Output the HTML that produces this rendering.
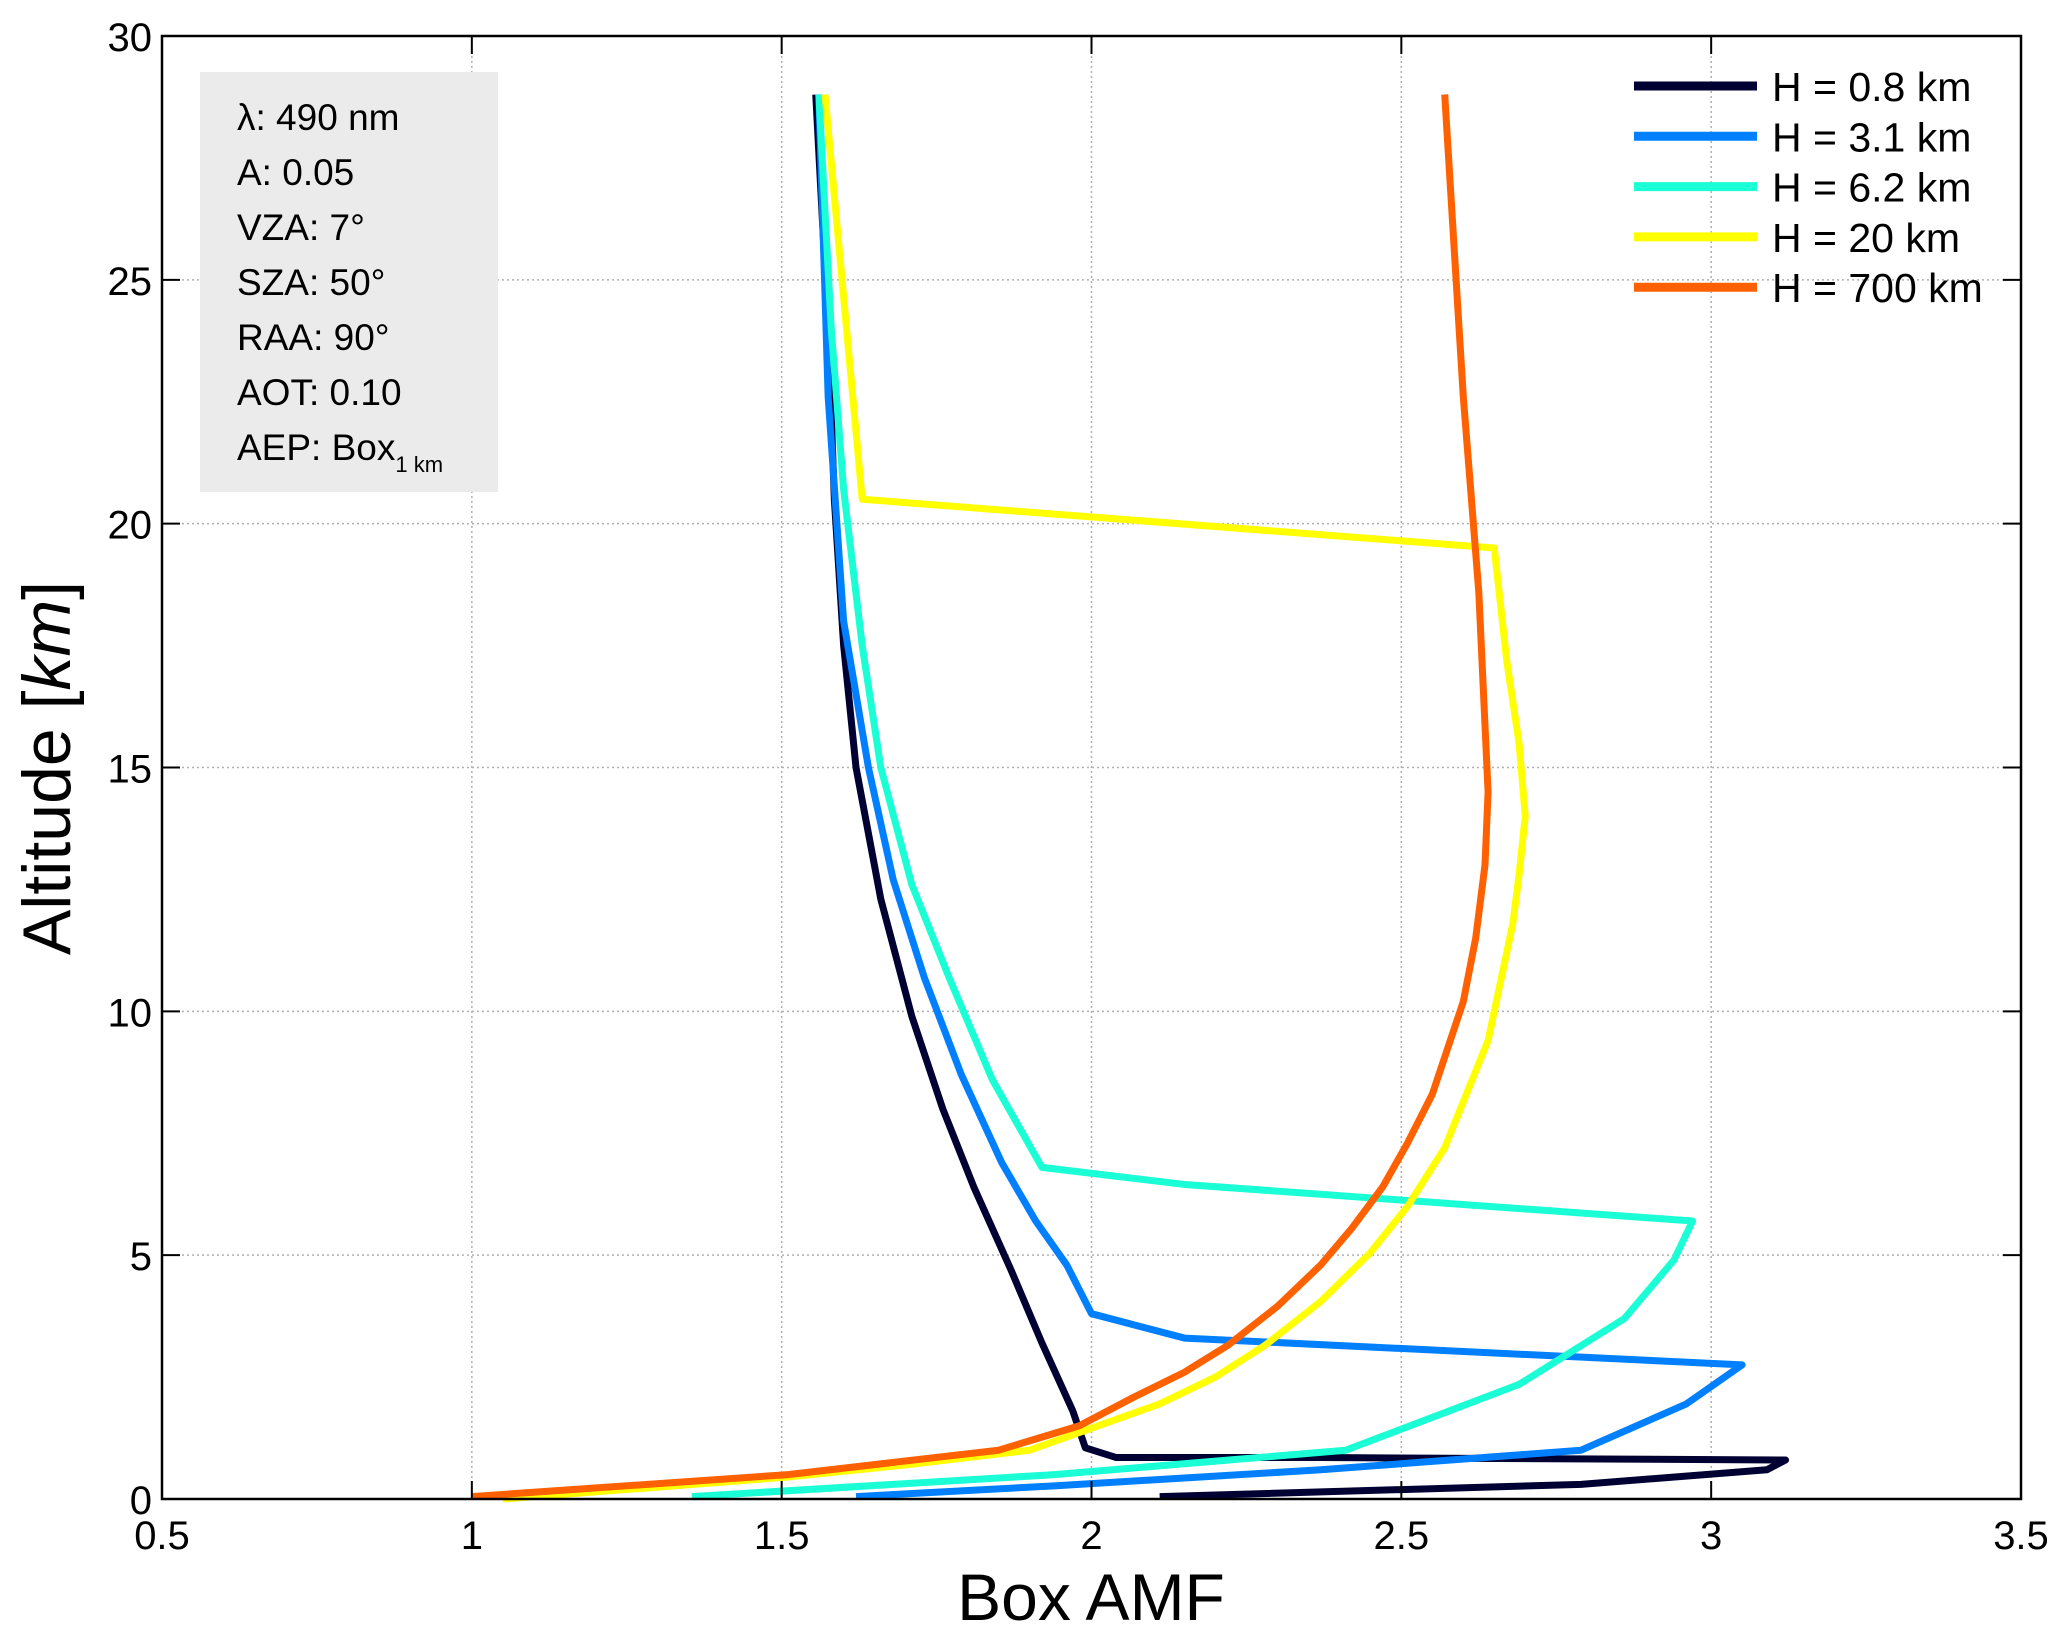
<!DOCTYPE html>
<html><head><meta charset="utf-8"><style>
body{margin:0;background:#fff;}
svg{display:block;font-family:"Liberation Sans",sans-serif;}
</style></head><body>
<svg id="chart" width="2067" height="1640" viewBox="0 0 2067 1640">
<rect width="2067" height="1640" fill="#fff"/>
<g id="grid"></g>
<g id="series"></g>
<g id="axes"></g>
<g>
<rect x="200" y="72" width="298" height="420" fill="#ebebeb"/>
<g font-size="37" fill="#000">
<text x="237" y="130">λ: 490 nm</text>
<text x="237" y="185">A: 0.05</text>
<text x="237" y="240">VZA: 7°</text>
<text x="237" y="295">SZA: 50°</text>
<text x="237" y="350">RAA: 90°</text>
<text x="237" y="405">AOT: 0.10</text>
<text x="237" y="460">AEP: Box<tspan font-size="22" dy="12">1 km</tspan></text>
</g></g>
<g id="legend"></g>
<text x="1091" y="1620" font-size="66" text-anchor="middle">Box AMF</text>
<text transform="translate(70,768) rotate(-90)" font-size="68" text-anchor="middle">Altitude [<tspan font-style="italic">km</tspan>]</text>
</svg>
<script>
const xTicks=[0.5,1,1.5,2,2.5,3,3.5];
const yTicks=[0,5,10,15,20,25,30];
const seriesNames=["H = 0.8 km","H = 3.1 km","H = 6.2 km","H = 20 km","H = 700 km"];
const seriesColors=["#000033","#0080ff","#1affd5","#ffff00","#ff6000"];
const s08x=[1.555,1.575,1.585,1.60,1.62,1.66,1.71,1.76,1.81,1.87,1.92,1.97,1.99,2.04,2.37,3.12,3.09,2.79,2.11];
const s08y=[28.8,24,20.5,17.5,15,12.3,9.9,8.0,6.4,4.7,3.2,1.8,1.05,0.85,0.85,0.8,0.6,0.3,0.05];
const s31x=[1.56,1.575,1.60,1.64,1.68,1.73,1.79,1.855,1.91,1.96,2.0,2.15,3.05,2.96,2.79,2.37,1.94,1.62];
const s31y=[28.8,22.6,18,15,12.7,10.7,8.7,6.9,5.7,4.8,3.8,3.3,2.75,1.95,1.0,0.6,0.27,0.05];
const s62x=[1.56,1.58,1.60,1.63,1.66,1.71,1.77,1.84,1.92,2.15,2.97,2.94,2.86,2.69,2.41,1.94,1.355];
const s62y=[28.8,24,20.7,17.5,15,12.6,10.7,8.6,6.8,6.45,5.7,4.9,3.7,2.35,1.0,0.5,0.05];
const s20x=[1.57,1.63,2.65,2.67,2.69,2.70,2.69,2.68,2.64,2.57,2.51,2.45,2.37,2.28,2.20,2.11,1.90,1.70,1.51,1.05];
const s20y=[28.8,20.5,19.5,17.2,15.5,14,12.8,11.8,9.4,7.2,6.0,5.05,4.05,3.15,2.5,1.95,1.0,0.7,0.45,0];
const s700x=[2.57,2.60,2.625,2.64,2.635,2.62,2.60,2.55,2.51,2.47,2.42,2.37,2.30,2.22,2.15,2.07,1.98,1.85,1.51,1.0];
const s700y=[28.8,22.6,18.6,14.5,13.0,11.5,10.2,8.3,7.3,6.4,5.55,4.8,3.95,3.15,2.6,2.1,1.5,1.0,0.5,0.05];
const allX=[s08x,s31x,s62x,s20x,s700x], allY=[s08y,s31y,s62y,s20y,s700y];
const L=162,R=2021,T=36,B=1499;
const sx=v=>L+(v-0.5)/3*(R-L), sy=v=>B-v/30*(B-T);
const NS="http://www.w3.org/2000/svg";
function mk(tag,attrs,parent,txt){const e=document.createElementNS(NS,tag);for(const k in attrs)e.setAttribute(k,attrs[k]);if(txt!==undefined)e.textContent=txt;parent.appendChild(e);return e;}
const grid=document.getElementById('grid'),axes=document.getElementById('axes'),ser=document.getElementById('series'),leg=document.getElementById('legend');
xTicks.forEach(t=>{
 const g=mk('line',{x1:sx(t),x2:sx(t),y1:T,y2:B,stroke:'#b0b0b0','stroke-width':1.5,'stroke-dasharray':'2,3'},grid);
 
 
 mk('line',{x1:sx(t),x2:sx(t),y1:B,y2:B-18,stroke:'#000','stroke-width':2},axes);
 mk('line',{x1:sx(t),x2:sx(t),y1:T,y2:T+18,stroke:'#000','stroke-width':2},axes);
 const l=mk('text',{x:sx(t),y:B+50,'font-size':40,'text-anchor':'middle'},axes,String(t));
 
 
});
yTicks.forEach(t=>{
 const g=mk('line',{x1:L,x2:R,y1:sy(t),y2:sy(t),stroke:'#b0b0b0','stroke-width':1.5,'stroke-dasharray':'2,3'},grid);
 
 
 mk('line',{x1:L,x2:L+18,y1:sy(t),y2:sy(t),stroke:'#000','stroke-width':2},axes);
 mk('line',{x1:R,x2:R-18,y1:sy(t),y2:sy(t),stroke:'#000','stroke-width':2},axes);
 const l=mk('text',{x:L-10,y:sy(t)+15,'font-size':40,'text-anchor':'end'},axes,String(t));
 
 
});
const fr=mk('rect',{x:L,y:T,width:R-L,height:B-T,fill:'none',stroke:'#000','stroke-width':2.5},axes);


allX.forEach((xs,i)=>{
 const pts=xs.map((v,j)=>sx(v)+','+sy(allY[i][j])).join(' ');
 const p=mk('polyline',{points:pts,fill:'none',stroke:seriesColors[i],'stroke-width':7,'stroke-linejoin':'round','stroke-linecap':'butt'},ser);
 
 
 const ly=86+i*50.3;
 const ll=mk('line',{x1:1634,x2:1757,y1:ly,y2:ly,stroke:seriesColors[i],'stroke-width':9},leg);
 
 
 const lt=mk('text',{x:1772,y:ly+15,'font-size':41},leg,seriesNames[i]);
 
 
});
</script>
</body></html>
